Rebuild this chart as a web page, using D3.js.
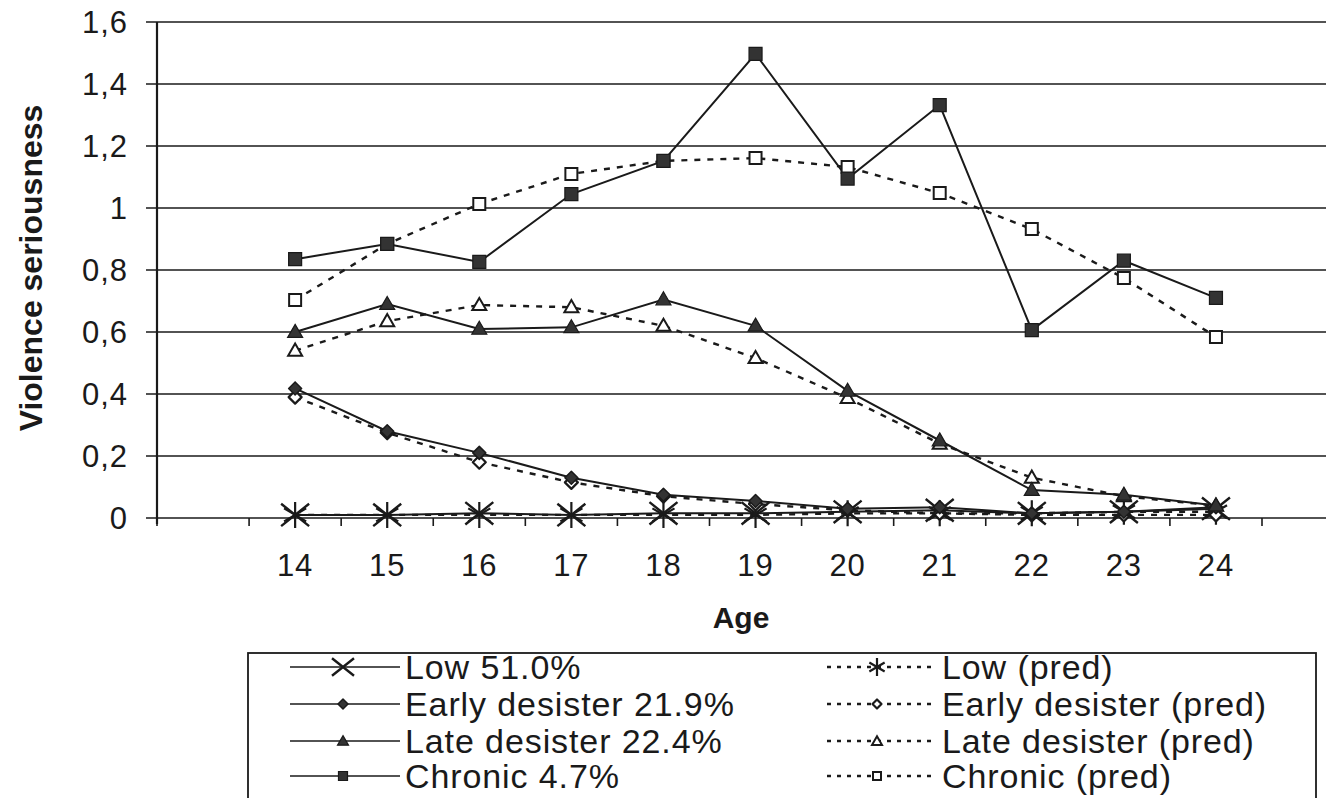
<!DOCTYPE html>
<html>
<head>
<meta charset="utf-8">
<script src="https://cdn.jsdelivr.net/npm/d3@7"></script>
<style>
  body { margin: 0; background: #fff; }
  svg text { font-family: "Liberation Sans", Arial, Helvetica, sans-serif; fill: #1a1a1a; }
</style>
</head>
<body>
<div class="chart"></div>
<script>
// ages on the x axis
var ages = [14, 15, 16, 17, 18, 19, 20, 21, 22, 23, 24];
var yTicks = [0, 0.2, 0.4, 0.6, 0.8, 1, 1.2, 1.4, 1.6];
var yTickLabels = ["0", "0,2", "0,4", "0,6", "0,8", "1", "1,2", "1,4", "1,6"];

// observed trajectories
var lowActual     = [0.01, 0.01, 0.015, 0.01, 0.015, 0.015, 0.02, 0.025, 0.015, 0.02, 0.03];
var earlyActual   = [0.418, 0.28, 0.21, 0.13, 0.075, 0.055, 0.03, 0.035, 0.015, 0.02, 0.035];
var lateActual    = [0.60, 0.69, 0.61, 0.615, 0.705, 0.62, 0.41, 0.25, 0.09, 0.075, 0.04];
var chronicActual = [0.835, 0.884, 0.826, 1.045, 1.152, 1.497, 1.095, 1.332, 0.606, 0.83, 0.71];

// predicted trajectories
var lowPred     = [0.01, 0.01, 0.01, 0.01, 0.01, 0.01, 0.015, 0.015, 0.015, 0.02, 0.02];
var earlyPred   = [0.39, 0.275, 0.18, 0.115, 0.07, 0.045, 0.025, 0.015, 0.01, 0.01, 0.01];
var latePred    = [0.54, 0.635, 0.687, 0.68, 0.62, 0.516, 0.387, 0.24, 0.13, 0.07, 0.04];
var chronicPred = [0.703, 0.884, 1.013, 1.11, 1.152, 1.161, 1.132, 1.048, 0.932, 0.774, 0.584];

var legendLeft  = ["Low 51.0%", "Early desister 21.9%", "Late desister 22.4%", "Chronic 4.7%"];
var legendRight = ["Low (pred)", "Early desister (pred)", "Late desister (pred)", "Chronic (pred)"];

var W = 1326, H = 798;
var ink = "#1a1a1a";

var svg = d3.select(".chart").append("svg")
    .attr("width", W)
    .attr("height", H);

// x: one empty slot before 14, boundaries between ages
var x = d3.scaleLinear().domain([12.5, 24.5]).range([157, 1262]);
var y = d3.scaleLinear().domain([0, 1.6]).range([518, 22]);

// gridlines + y ticks
svg.selectAll(".grid")
    .data(yTicks)
  .enter().append("line")
    .attr("x1", 146).attr("x2", W)
    .attr("y1", function(d) { return y(d); })
    .attr("y2", function(d) { return y(d); })
    .attr("stroke", ink)
    .attr("stroke-width", 1.6);

svg.selectAll(".ylab")
    .data(yTicks)
  .enter().append("text")
    .attr("x", 128)
    .attr("y", function(d) { return y(d); })
    .attr("dy", "0.36em")
    .attr("text-anchor", "end")
    .style("font-size", "31px")
    .style("letter-spacing", "1px")
    .text(function(d, i) { return yTickLabels[i]; });

// y axis line
svg.append("line")
    .attr("x1", 157).attr("x2", 157)
    .attr("y1", y(1.6)).attr("y2", y(0) + 6)
    .attr("stroke", ink).attr("stroke-width", 2.2);

// x axis ticks at age boundaries
var bounds = d3.range(12.5, 25, 1);
svg.selectAll(".xtick")
    .data(bounds)
  .enter().append("line")
    .attr("x1", function(d) { return x(d); })
    .attr("x2", function(d) { return x(d); })
    .attr("y1", y(0)).attr("y2", y(0) + 8)
    .attr("stroke", ink).attr("stroke-width", 1.6);

svg.selectAll(".xlab")
    .data(ages)
  .enter().append("text")
    .attr("x", function(d) { return x(d); })
    .attr("y", 565)
    .attr("dy", "0.36em")
    .attr("text-anchor", "middle")
    .style("font-size", "31px")
    .style("letter-spacing", "1px")
    .text(function(d) { return d; });

// axis titles
svg.append("text")
    .attr("x", 741).attr("y", 617)
    .attr("dy", "0.36em")
    .attr("text-anchor", "middle")
    .style("font-size", "30px")
    .style("font-weight", "bold")
    .text("Age");

svg.append("text")
    .attr("transform", "translate(30,268) rotate(-90)")
    .attr("dy", "0.36em")
    .attr("text-anchor", "middle")
    .style("font-size", "32px")
    .style("font-weight", "bold")
    .text("Violence seriousness");

// marker drawing
function marker(g, type, cx, cy, s) {
  if (type == "x") {
    g.append("path")
      .attr("d", "M" + (cx - s) + "," + (cy - s * 0.8) + "L" + (cx + s) + "," + (cy + s * 0.8) +
                 "M" + (cx - s) + "," + (cy + s * 0.8) + "L" + (cx + s) + "," + (cy - s * 0.8))
      .attr("stroke", ink).attr("stroke-width", 2.4).attr("fill", "none");
  } else if (type == "star") {
    g.append("path")
      .attr("d", "M" + cx + "," + (cy - s) + "L" + cx + "," + (cy + s) +
                 "M" + (cx - s * 0.85) + "," + (cy - s * 0.5) + "L" + (cx + s * 0.85) + "," + (cy + s * 0.5) +
                 "M" + (cx - s * 0.85) + "," + (cy + s * 0.5) + "L" + (cx + s * 0.85) + "," + (cy - s * 0.5))
      .attr("stroke", ink).attr("stroke-width", 2.2).attr("fill", "none");
  } else if (type.indexOf("diamond") >= 0) {
    var r = s / 2;
    var openD = type.indexOf("open") >= 0;
    g.append("path")
      .attr("d", "M" + cx + "," + (cy - r) + "L" + (cx + r) + "," + cy + "L" + cx + "," + (cy + r) +
                 "L" + (cx - r) + "," + cy + "Z")
      .attr("fill", openD ? "#fff" : "#333")
      .attr("stroke", ink)
      .attr("stroke-linejoin", "round")
      .attr("stroke-width", openD ? 2.2 : 1.5);
  } else {
    var tri = type.indexOf("tri") >= 0;
    var open = type.indexOf("open") >= 0;
    var area = tri ? s * s * 0.433 : s * s;
    g.append("path")
      .attr("transform", "translate(" + cx + "," + (tri ? cy + 1 : cy) + ")")
      .attr("d", d3.symbol().type(tri ? d3.symbolTriangle : d3.symbolSquare).size(area)())
      .attr("fill", open ? "#fff" : "#333")
      .attr("stroke", ink)
      .attr("stroke-width", open ? 2 : 1.2);
  }
}

var series = [
  { values: lowPred,       dash: true,  mk: "star",          size: 13 },
  { values: earlyPred,     dash: true,  mk: "open-diamond",  size: 13 },
  { values: latePred,      dash: true,  mk: "open-tri",      size: 14 },
  { values: chronicPred,   dash: true,  mk: "open-square",   size: 12 },
  { values: lowActual,     dash: false, mk: "x",             size: 14 },
  { values: earlyActual,   dash: false, mk: "diamond",       size: 13 },
  { values: lateActual,    dash: false, mk: "tri",           size: 15 },
  { values: chronicActual, dash: false, mk: "square",        size: 13 }
];

var line = d3.line()
    .x(function(d, i) { return x(ages[i]); })
    .y(function(d) { return y(d); });

series.forEach(function(s) {
  svg.append("path")
    .datum(s.values)
    .attr("d", line)
    .attr("fill", "none")
    .attr("stroke", ink)
    .attr("stroke-width", s.dash ? 2.4 : 2)
    .attr("stroke-dasharray", s.dash ? "6,7" : null);
});
series.forEach(function(s) {
  var g = svg.append("g");
  s.values.forEach(function(v, i) {
    marker(g, s.mk, x(ages[i]), y(v), s.size);
  });
});

// legend
var lg = svg.append("g");
lg.append("rect")
    .attr("x", 248).attr("y", 653)
    .attr("width", 1068).attr("height", 160)
    .attr("fill", "none")
    .attr("stroke", ink).attr("stroke-width", 1.8);

var rowY = [667, 704, 741, 776];
var leftMk = ["x", "diamond", "tri", "square"];
var rightMk = ["star", "open-diamond", "open-tri", "open-square"];
var leftSize = [11, 10, 11, 9];
var rightSize = [9, 9, 10, 8];

legendLeft.forEach(function(t, i) {
  lg.append("line")
    .attr("x1", 290).attr("x2", 400)
    .attr("y1", rowY[i]).attr("y2", rowY[i])
    .attr("stroke", ink).attr("stroke-width", 1.6);
  marker(lg, leftMk[i], 343, rowY[i], leftSize[i]);
  lg.append("text")
    .attr("x", 405).attr("y", rowY[i])
    .attr("dy", "0.35em")
    .style("font-size", "34px")
    .style("letter-spacing", "0.9px")
    .text(t);
});

legendRight.forEach(function(t, i) {
  lg.append("line")
    .attr("x1", 827).attr("x2", 934)
    .attr("y1", rowY[i]).attr("y2", rowY[i])
    .attr("stroke", ink).attr("stroke-width", 2.5)
    .attr("stroke-dasharray", "4,6");
  marker(lg, rightMk[i], 877, rowY[i], rightSize[i]);
  lg.append("text")
    .attr("x", 942).attr("y", rowY[i])
    .attr("dy", "0.35em")
    .style("font-size", "34px")
    .style("letter-spacing", "0.9px")
    .text(t);
});
</script>
</body>
</html>
